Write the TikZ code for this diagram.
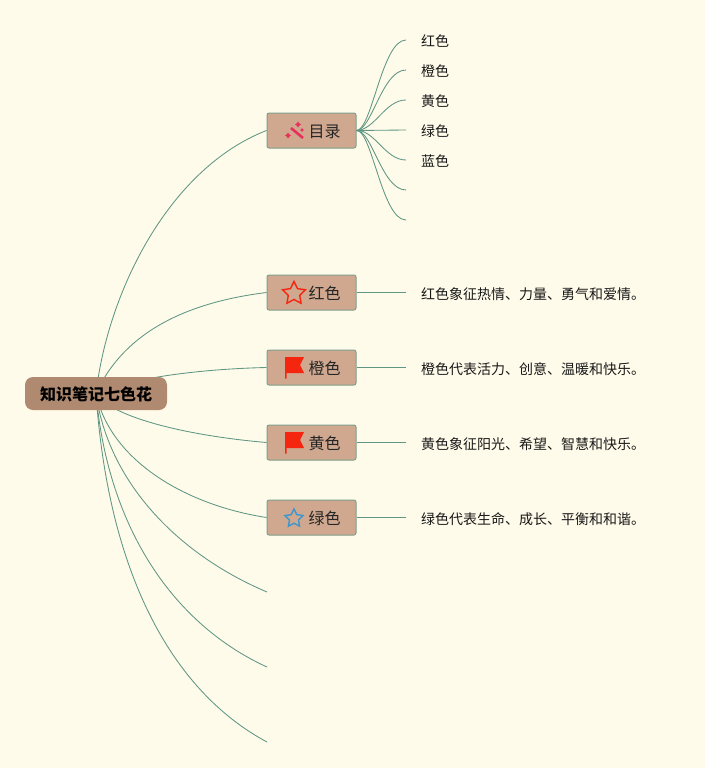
\documentclass[tikz,border=0pt]{standalone}
\usepackage{fontspec}
\setmainfont{Noto Sans CJK SC}
\usetikzlibrary{backgrounds,shapes.geometric}
\definecolor{bgc}{HTML}{FFFBEA}
\definecolor{linkc}{HTML}{5F9684}
\definecolor{boxc}{HTML}{CFA88F}
\definecolor{boxb}{HTML}{7FA08C}
\definecolor{rootc}{HTML}{B08A70}
\definecolor{flagc}{HTML}{F5260F}
\definecolor{starb}{HTML}{3C97CE}
\definecolor{wandc}{HTML}{E8305A}
\newcommand{\dn}[1]{\raisebox{-1pt}[\height][\depth]{#1}}
\tikzset{
  x=1pt,y=-1pt,
  link/.style={draw=linkc,line width=0.85pt},
  topicbox/.style={draw=boxb,line width=1pt,fill=boxc,rounded corners=2pt,minimum width=89pt,minimum height=35pt,inner sep=0pt,font=\fontsize{16pt}{17pt}\selectfont,text=black!85},
  rootbox/.style={fill=rootc,rounded corners=8pt,minimum width=142pt,minimum height=33pt,inner sep=0pt,font=\fontsize{16pt}{17pt}\selectfont\bfseries,text=black},
  leaf/.style={anchor=west,inner sep=0pt,inner xsep=15pt,minimum height=18pt,font=\fontsize{14pt}{15pt}\selectfont,text=black!90},
  staricon/.style={star,star points=5,star point ratio=2.0,inner sep=0pt,line join=miter},
}
\newcommand{\flagicon}[1]{%
  \fill[flagc] (285,#1-10.5) -- (304,#1-10.5) -- (300,#1-2.5) -- (304,#1+5.5) -- (286.5,#1+5.5) -- (286.5,#1+11) -- (285,#1+11) -- cycle;}
\begin{document}
\begin{tikzpicture}
\useasboundingbox (0,0) rectangle (705,768);
\node[rootbox] (root) at (96,393.5) {\dn{知识笔记七色花}};
\node[topicbox] (t0) at (311.5,130.5) {\hspace{26pt}\dn{目录}};
\node[topicbox] (t1) at (311.5,292.5) {\hspace{26pt}\dn{红色}};
\node[topicbox] (t2) at (311.5,367.5) {\hspace{26pt}\dn{橙色}};
\node[topicbox] (t3) at (311.5,442.5) {\hspace{26pt}\dn{黄色}};
\node[topicbox] (t4) at (311.5,517.5) {\hspace{26pt}\dn{绿色}};
\coordinate (e5) at (267,592);
\coordinate (e6) at (267,667);
\coordinate (e7) at (267,742);
\node[leaf] (l1) at (406,40) {\dn{红色}};
\node[leaf] (l2) at (406,70) {\dn{橙色}};
\node[leaf] (l3) at (406,100) {\dn{黄色}};
\node[leaf] (l4) at (406,130) {\dn{绿色}};
\node[leaf] (l5) at (406,160) {\dn{蓝色}};
\coordinate (l6) at (406,190);
\coordinate (l7) at (406,220);
\node[leaf] (d1) at (406,293) {\dn{红色象征热情、力量、勇气和爱情。}};
\node[leaf] (d2) at (406,368) {\dn{橙色代表活力、创意、温暖和快乐。}};
\node[leaf] (d3) at (406,443) {\dn{黄色象征阳光、希望、智慧和快乐。}};
\node[leaf] (d4) at (406,518) {\dn{绿色代表生命、成长、平衡和和谐。}};
\begin{scope}[on background layer]
  \fill[bgc] (0,0) rectangle (705,768);
  \draw[link] (root.center) .. controls (108,290) and (170,168) .. (t0.west);
  \draw[link] (root.center) .. controls (125,330) and (190,302) .. (t1.west);
  \draw[link] (root.center) .. controls (130,378) and (200,369) .. (t2.west);
  \draw[link] (root.center) .. controls (112,418) and (190,436) .. (t3.west);
  \draw[link] (root.center) .. controls (110,460) and (185,505) .. (t4.west);
  \draw[link] (root.center) .. controls (108,480) and (175,553) .. (e5);
  \draw[link] (root.center) .. controls (108,530) and (175,625) .. (e6);
  \draw[link] (root.center) .. controls (108,570) and (170,690) .. (e7);
\end{scope}
\draw[link] (t0.east) .. controls (372,130) and (382,40) .. (l1.west);
\draw[link] (t0.east) .. controls (372,130) and (382,70) .. (l2.west);
\draw[link] (t0.east) .. controls (375,130) and (385,100) .. (l3.west);
\draw[link] (t0.east) -- (l4.west);
\draw[link] (t0.east) .. controls (375,130) and (385,160) .. (l5.west);
\draw[link] (t0.east) .. controls (372,130) and (382,190) .. (l6);
\draw[link] (t0.east) .. controls (372,130) and (382,220) .. (l7);
\draw[link] (t1.east) -- (d1.west |- t1.east);
\draw[link] (t2.east) -- (d2.west |- t2.east);
\draw[link] (t3.east) -- (d3.west |- t3.east);
\draw[link] (t4.east) -- (d4.west |- t4.east);
% icons
\draw[wandc,line width=2.6pt] (291,128) -- (303,138);
\fill[wandc] (298,121.5) -- (299.2,123.3) -- (301,124.5) -- (299.2,125.7) -- (298,127.5) -- (296.8,125.7) -- (295,124.5) -- (296.8,123.3) -- cycle;
\fill[wandc] (288,132.5) -- (289.2,134.3) -- (291,135.5) -- (289.2,136.7) -- (288,138.5) -- (286.8,136.7) -- (285,135.5) -- (286.8,134.3) -- cycle;
\fill[wandc] (302,128) -- (302.8,129.2) -- (304,130) -- (302.8,130.8) -- (302,132) -- (301.2,130.8) -- (300,130) -- (301.2,129.2) -- cycle;
\node[staricon,draw=flagc,line width=1.4pt,minimum size=24pt] (s1) at (294,293.5) {};
\flagicon{367.5}
\flagicon{442.5}
\node[staricon,draw=starb,line width=1.4pt,minimum size=19pt] (s4) at (294,518.5) {};
\end{tikzpicture}
\end{document}
